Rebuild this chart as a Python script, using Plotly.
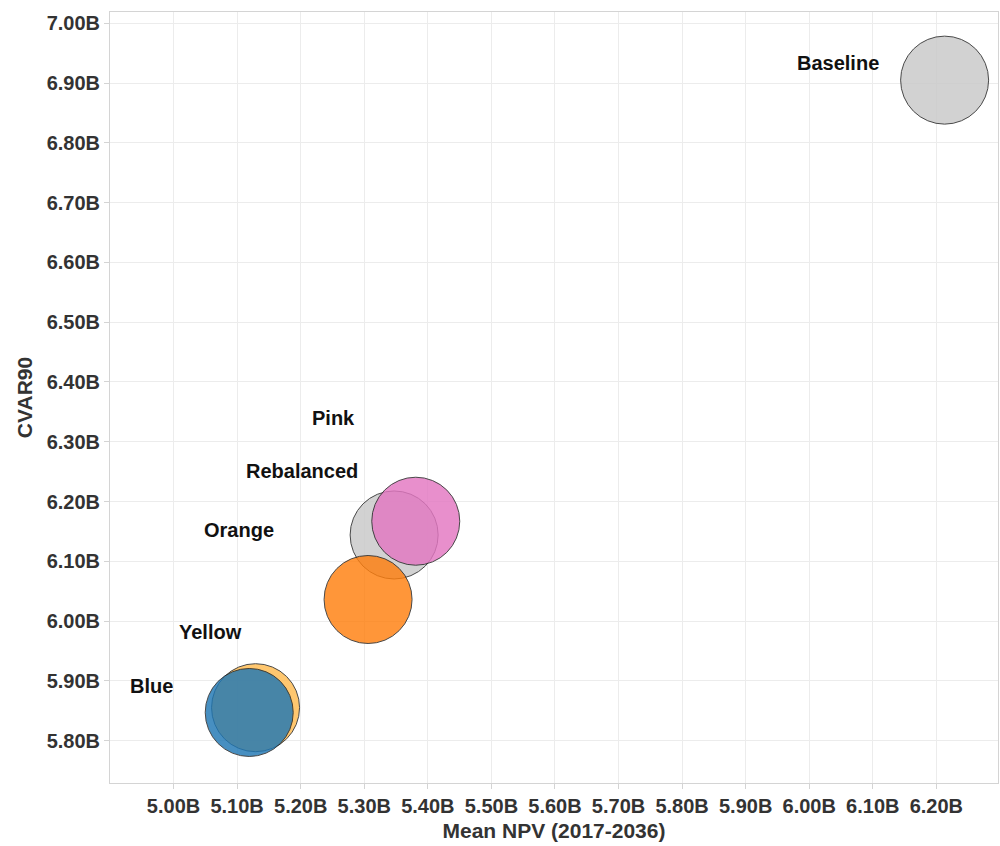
import plotly.graph_objects as go

# Scenario results, in billions
scenarios = ["Baseline", "Rebalanced", "Yellow", "Blue", "Orange", "Pink"]
mean_npv = [6.213, 5.347, 5.129, 5.119, 5.306, 5.381]
cvar90 = [6.905, 6.144, 5.855, 5.847, 6.036, 6.167]

x_ticks = [5.0, 5.1, 5.2, 5.3, 5.4, 5.5, 5.6, 5.7, 5.8, 5.9, 6.0, 6.1, 6.2]
x_tick_text = ["5.00B", "5.10B", "5.20B", "5.30B", "5.40B", "5.50B", "5.60B",
               "5.70B", "5.80B", "5.90B", "6.00B", "6.10B", "6.20B"]
y_ticks = [5.8, 5.9, 6.0, 6.1, 6.2, 6.3, 6.4, 6.5, 6.6, 6.7, 6.8, 6.9, 7.0]
y_tick_text = ["5.80B", "5.90B", "6.00B", "6.10B", "6.20B", "6.30B", "6.40B",
               "6.50B", "6.60B", "6.70B", "6.80B", "6.90B", "7.00B"]

colors = {
    "Baseline": "#c9c9c9",
    "Rebalanced": "#c9c9c9",
    "Yellow": "#ffbb50",
    "Blue": "#1f77b4",
    "Orange": "#ff7f0e",
    "Pink": "#e377c2",
}
# label offsets from bubble centre, in pixels (right edge of text)
label_shift = {
    "Baseline": (-64, 17),
    "Rebalanced": (-34, 64),
    "Yellow": (-12, 76),
    "Blue": (-74, 26),
    "Orange": (-92, 70),
    "Pink": (-59, 103),
}

fig = go.Figure()
for name, x, y in zip(scenarios, mean_npv, cvar90):
    fig.add_trace(go.Scatter(
        x=[x], y=[y], mode="markers", name=name,
        marker=dict(size=88, color=colors[name], opacity=0.82,
                    line=dict(color="#222222", width=1)),
        hovertemplate=name + "<br>Mean NPV: %{x:.2f}B<br>CVAR90: %{y:.2f}B<extra></extra>",
    ))
    dx, dy = label_shift[name]
    fig.add_annotation(
        x=x, y=y, text="<b>" + name + "</b>", showarrow=False,
        xanchor="right", yanchor="middle", xshift=dx, yshift=dy,
        font=dict(family="Arial", size=20, color="#111111"),
    )

axis_common = dict(
    showgrid=True, gridcolor="#ececec", gridwidth=1,
    zeroline=False, showline=True, linecolor="#d4d4d4", linewidth=1,
    mirror=True, ticks="outside", ticklen=5, tickcolor="#d4d4d4",
    tickfont=dict(family="Arial", size=20, color="#333333", weight="bold"),
)

fig.update_xaxes(
    range=[4.900, 6.297], tickvals=x_ticks, ticktext=x_tick_text,
    title=dict(text="<b>Mean NPV (2017-2036)</b>", standoff=7,
               font=dict(family="Arial", size=21, color="#333333")),
    **axis_common,
)
fig.update_yaxes(
    range=[5.729, 7.019], tickvals=y_ticks, ticktext=y_tick_text,
    title=dict(text="<b>CVAR90</b>", standoff=8,
               font=dict(family="Arial", size=21, color="#333333")),
    **axis_common,
)

fig.update_layout(
    width=1000, height=846,
    margin=dict(l=110, r=2, t=12, b=63),
    plot_bgcolor="white", paper_bgcolor="white",
    showlegend=False,
)

fig.write_html("out.html")
